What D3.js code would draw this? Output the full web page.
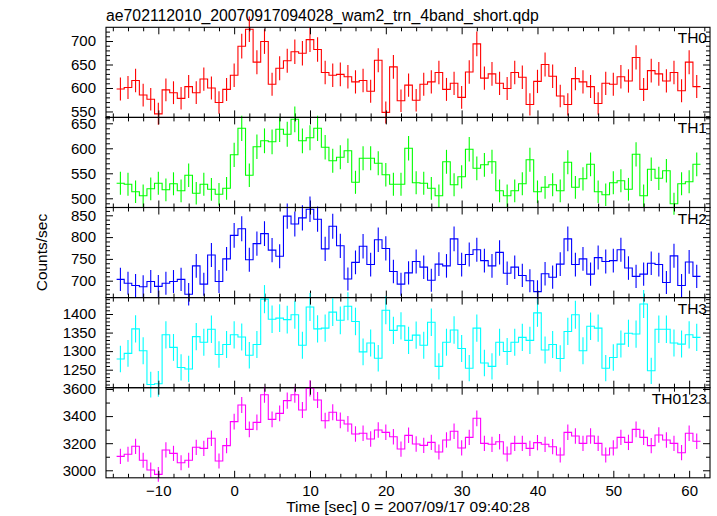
<!DOCTYPE html>
<html><head><meta charset="utf-8">
<script src="https://cdn.jsdelivr.net/npm/d3@7"></script>
<style>body{margin:0;background:#fff}svg text{font-family:"Liberation Sans",Arial,Helvetica,sans-serif;fill:#000}</style>
</head><body><svg id="c" width="717" height="516"></svg>
<script>
// ---------- data ----------
const titleText = "ae702112010_20070917094028_wam2_trn_4band_short.qdp";
const xLabel = "Time [sec] 0 = 2007/09/17 09:40:28";
const yLabel = "Counts/sec";
const binSec = 1;
const times = [-15,-14,-13,-12,-11,-10,-9,-8,-7,-6,-5,-4,-3,-2,-1,0,1,2,3,4,5,6,7,8,9,10,11,12,13,14,15,16,17,18,19,20,21,22,23,24,25,26,27,28,29,30,31,32,33,34,35,36,37,38,39,40,41,42,43,44,45,46,47,48,49,50,51,52,53,54,55,56,57,58,59,60,61];
const bandNames = ["TH0","TH1","TH2","TH3","TH0123"];
const th0 = [598,601,616,585,576,545,596,590,578,603,590,619,600,569,597,627,689,725,655,699,608,642,658,677,674,703,682,633,627,629,624,613,616,593,659,548,645,573,606,574,608,613,633,597,610,580,634,694,621,630,610,599,633,623,565,614,650,625,583,565,620,613,603,567,610,608,624,615,665,597,637,630,615,633,594,655,603];
const th1 = [530,528,513,505,519,530,517,529,515,546,510,528,518,508,520,587,640,546,603,615,613,638,628,658,615,621,640,602,575,582,595,532,580,580,570,547,528,528,600,531,530,520,505,573,527,543,598,560,567,573,515,505,515,529,577,513,522,527,515,572,522,539,568,513,507,531,535,518,588,505,558,540,555,489,529,533,568];
const th2 = [703,694,689,686,698,687,694,698,703,669,734,692,759,698,750,804,819,748,785,808,770,756,848,830,844,864,841,773,825,780,704,742,779,737,794,774,721,692,718,744,731,701,738,734,796,737,760,771,746,734,765,717,731,712,700,675,716,708,738,796,737,750,715,753,744,746,771,729,710,715,740,737,696,757,689,743,710];
const th3 = [1279,1294,1360,1301,1210,1212,1344,1310,1256,1252,1339,1324,1359,1291,1318,1344,1338,1289,1318,1440,1386,1389,1385,1398,1316,1419,1360,1362,1405,1383,1421,1380,1298,1322,1281,1410,1356,1368,1329,1343,1316,1378,1259,1324,1357,1307,1254,1362,1268,1259,1324,1299,1324,1337,1329,1403,1303,1318,1280,1353,1398,1301,1367,1362,1254,1283,1319,1348,1346,1427,1247,1359,1359,1322,1319,1344,1337];
const th0123 = [3103,3118,3177,3074,3002,2970,3150,3125,3056,3074,3170,3162,3236,3069,3182,3359,3482,3302,3354,3558,3376,3420,3514,3558,3445,3605,3519,3366,3428,3369,3342,3268,3273,3231,3297,3280,3248,3157,3258,3194,3184,3206,3135,3224,3288,3165,3243,3384,3199,3192,3211,3120,3199,3199,3162,3204,3192,3174,3113,3280,3253,3199,3253,3199,3113,3165,3243,3206,3302,3243,3182,3260,3224,3199,3130,3273,3214];
const xTickValues = [-10,0,10,20,30,40,50,60];
const yTicks0 = [550,600,650,700];
const yTicks1 = [500,550,600,650];
const yTicks2 = [700,750,800,850];
const yTicks3 = [1250,1300,1350,1400];
const yTicks4 = [3000,3200,3400,3600];

// ---------- layout / style ----------
const series = [th0, th1, th2, th3, th0123];
const yTicks = [yTicks0, yTicks1, yTicks2, yTicks3, yTicks4];
const colors = ["#ff0000","#00ff00","#0000ff","#00ffff","#ff00ff"];
const yDomains = [[537.4,729.2],[481.6,661.8],[661.2,867.9],[1201.5,1444.2],[2944.6,3609.6]];
const minorSteps = [10,10,10,10,100];
const L = 106, R = 710, T = 27.3, B = 477.8;
const ph = (B - T) / 5;
const fs = 15;

const svg = d3.select("#c");
const x = d3.scaleLinear().domain([-16.9, 62.75]).range([L, R]);
const xMinor = d3.range(-16, 63, 2).filter(v => v % 10 !== 0);

svg.append("text").attr("x", L).attr("y", 20.5).attr("font-size", 15.8).text(titleText);

series.forEach((vals, i) => {
  const y0 = T + i * ph, y1 = y0 + ph;
  const y = d3.scaleLinear().domain(yDomains[i]).range([y1, y0]);
  const g = svg.append("g");
  const [d0, d1] = yDomains[i];
  const yMinor = d3.range(Math.ceil(d0 / minorSteps[i]) * minorSteps[i], d1, minorSteps[i])
    .filter(v => !yTicks[i].includes(v));

  // data: step histogram + error bars
  const pts = times.map((t, k) => [t - binSec / 2, vals[k]]);
  pts.push([times[times.length - 1] + binSec / 2, vals[vals.length - 1]]);
  const line = d3.line().x(d => x(d[0])).y(d => y(d[1])).curve(d3.curveStepAfter);
  g.append("path").attr("d", line(pts)).attr("fill", "none")
    .attr("stroke", colors[i]).attr("stroke-width", 1.1);
  g.selectAll("line.err").data(times).enter().append("line")
    .attr("x1", t => x(t)).attr("x2", t => x(t))
    .attr("y1", (t, k) => y(vals[k] + Math.sqrt(vals[k] * binSec) / binSec))
    .attr("y2", (t, k) => y(vals[k] - Math.sqrt(vals[k] * binSec) / binSec))
    .attr("stroke", colors[i]).attr("stroke-width", 1.1);

  // axes (inward ticks)
  const styleAx = sel => { sel.select(".domain").remove(); sel.selectAll("line").attr("stroke", "#000"); sel.selectAll("text").attr("font-size", fs).attr("font-family", null); };
  g.append("g").attr("transform", `translate(${L},0)`)
    .call(d3.axisLeft(y).tickValues(yTicks[i]).tickSize(-7).tickPadding(10).tickFormat(d3.format("d"))).call(styleAx);
  g.append("g").attr("transform", `translate(${L},0)`)
    .call(d3.axisLeft(y).tickValues(yMinor).tickSize(-4).tickFormat("")).call(styleAx);
  g.append("g").attr("transform", `translate(${R},0)`)
    .call(d3.axisRight(y).tickValues(yTicks[i]).tickSize(-7).tickFormat("")).call(styleAx);
  g.append("g").attr("transform", `translate(${R},0)`)
    .call(d3.axisRight(y).tickValues(yMinor).tickSize(-4).tickFormat("")).call(styleAx);
  g.append("g").attr("transform", `translate(0,${y0})`)
    .call(d3.axisTop(x).tickValues(xTickValues).tickSize(-7).tickFormat("")).call(styleAx);
  g.append("g").attr("transform", `translate(0,${y0})`)
    .call(d3.axisTop(x).tickValues(xMinor).tickSize(-4).tickFormat("")).call(styleAx);
  g.append("g").attr("transform", `translate(0,${y1})`)
    .call(d3.axisBottom(x).tickValues(xTickValues).tickSize(-7).tickPadding(8)
      .tickFormat(i === 4 ? d3.format("d") : "")).call(styleAx);
  g.append("g").attr("transform", `translate(0,${y1})`)
    .call(d3.axisBottom(x).tickValues(xMinor).tickSize(-4).tickFormat("")).call(styleAx);

  g.append("rect").attr("x", L).attr("y", y0).attr("width", R - L).attr("height", ph)
    .attr("fill", "none").attr("stroke", "#000").attr("stroke-width", 1.1);

  g.append("text").attr("x", R - 3).attr("y", y0 + 16).attr("text-anchor", "end")
    .attr("font-size", 15.5).text(bandNames[i]);
});

svg.append("text").attr("transform", `translate(47,${(T + B) / 2}) rotate(-90)`)
  .attr("text-anchor", "middle").attr("font-size", 15.5).text(yLabel);
svg.append("text").attr("x", (L + R) / 2).attr("y", 512).attr("text-anchor", "middle")
  .attr("font-size", 15.5).text(xLabel);
</script></body></html>
